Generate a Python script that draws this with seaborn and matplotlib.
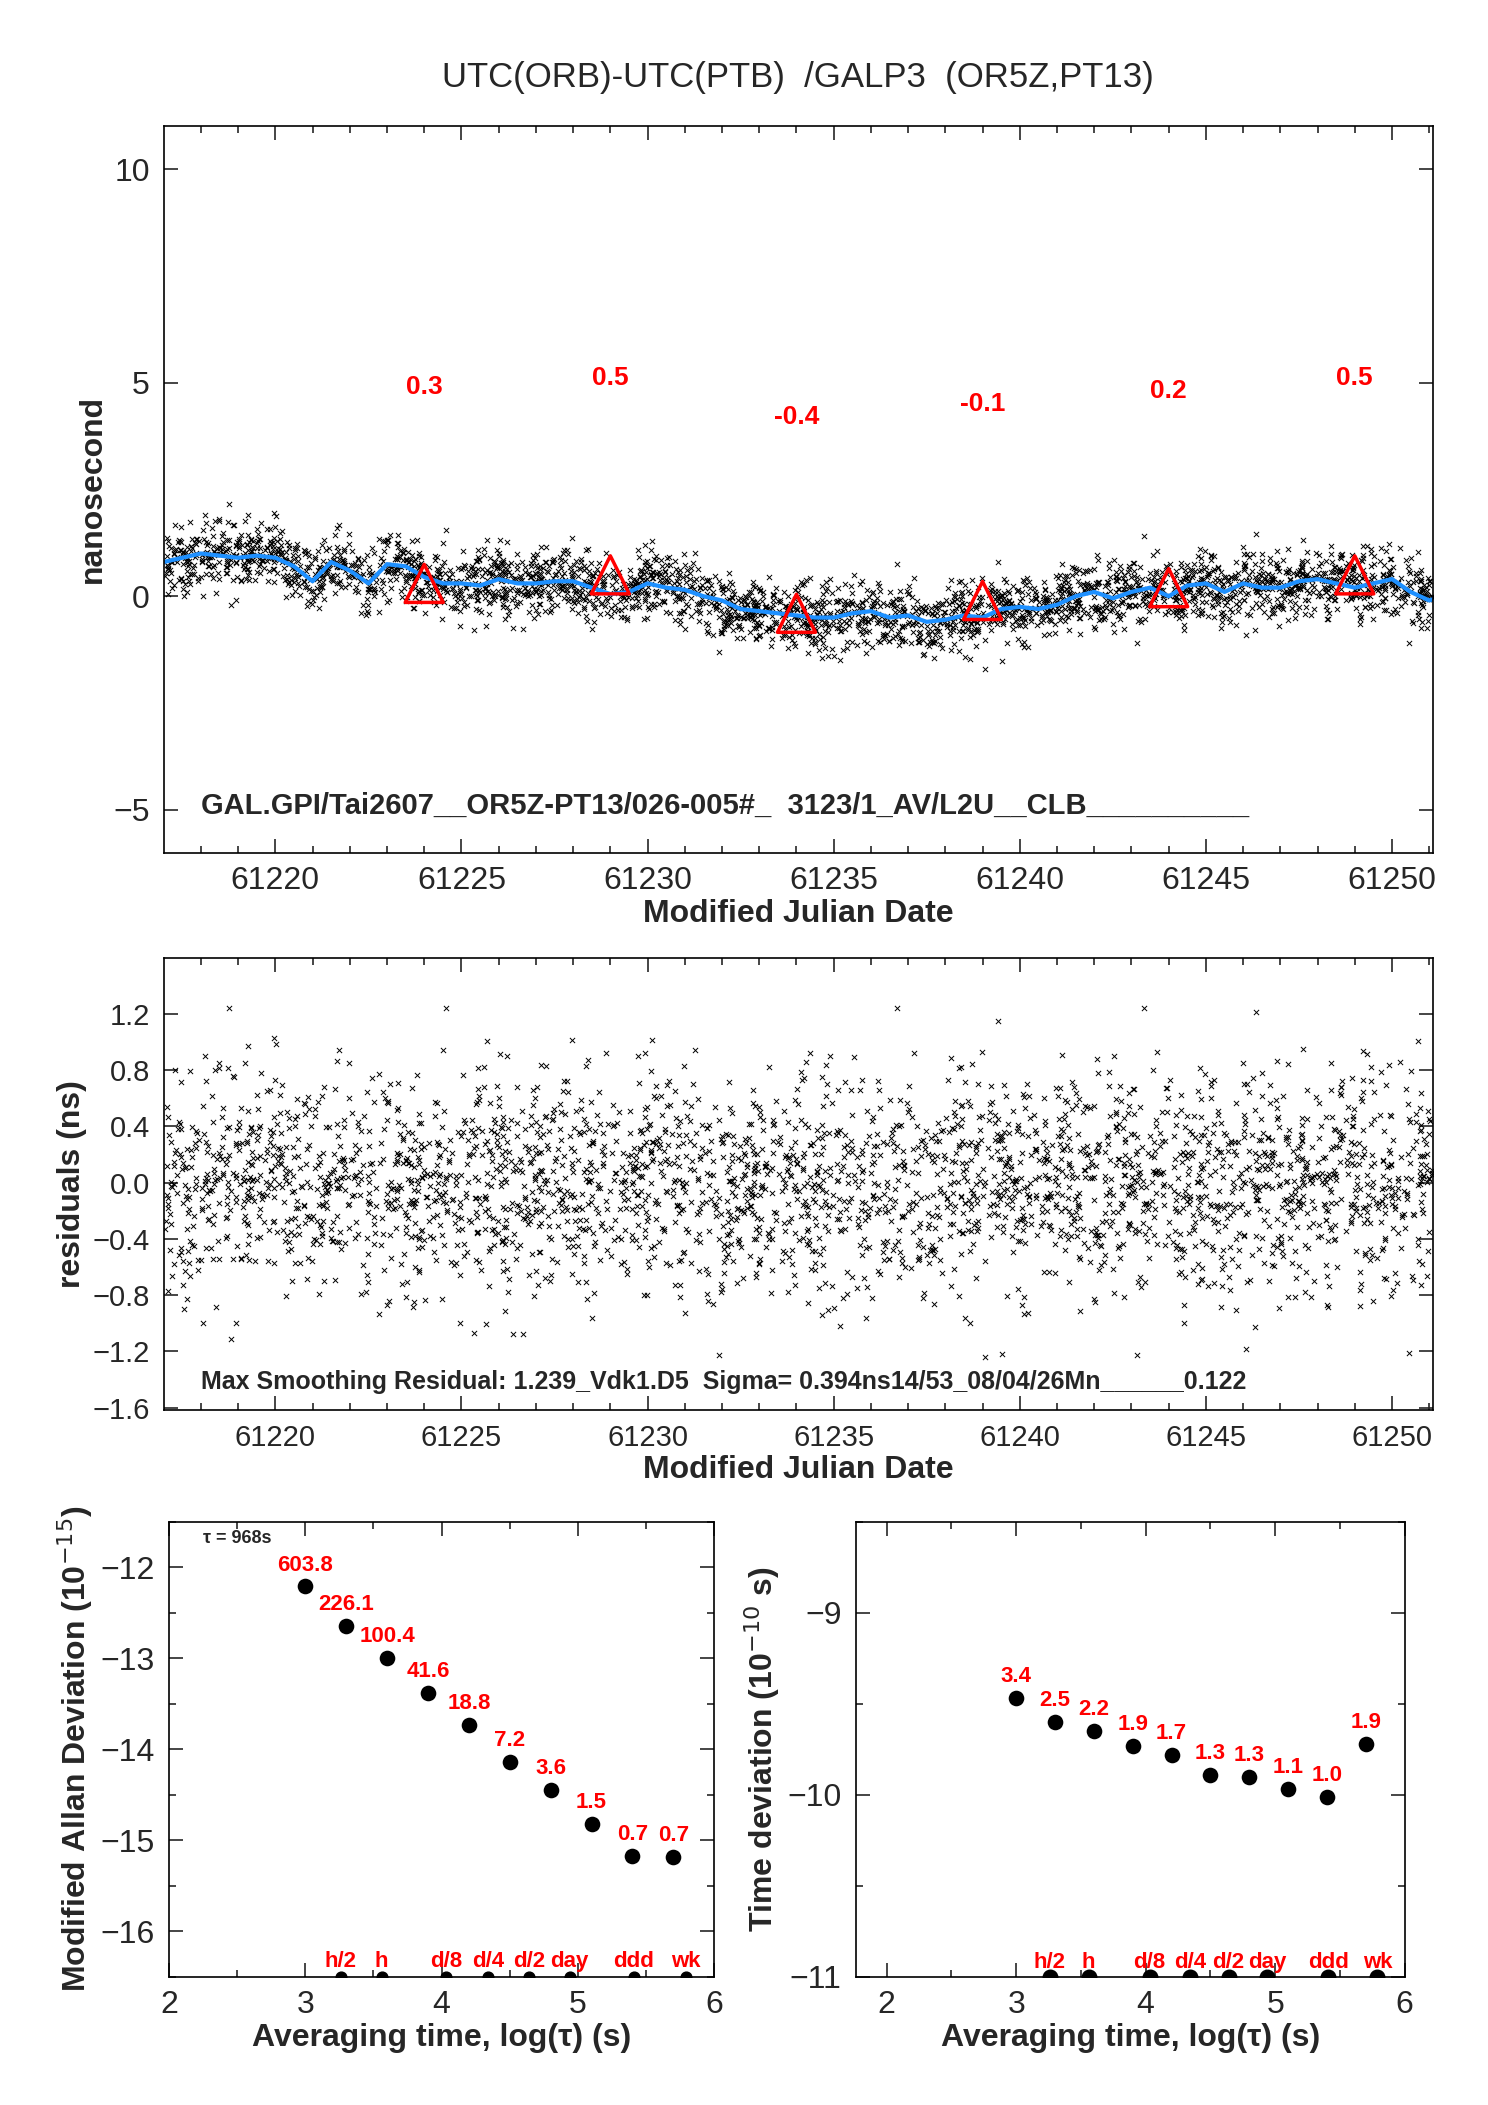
import numpy as np
import pandas as pd
import matplotlib
matplotlib.use("Agg")
import matplotlib.pyplot as plt
import seaborn as sns

sns.set_theme(style="ticks")
plt.rcParams['font.family'] = ['Liberation Sans', 'DejaVu Sans']

# smoothed curve (blue), values every 0.5 day from 61217.0
curve_start = 61217.0
curve_vals = [0.8, 0.9, 1.0, 0.95, 0.9, 0.95, 0.9, 0.7, 0.35, 0.8, 0.6, 0.3, 0.75, 0.7, 0.45, 0.3,
              0.3, 0.25, 0.4, 0.3, 0.3, 0.35, 0.35, 0.2, 0.05, 0.1, 0.3, 0.2, 0.15, 0.0, -0.1, -0.3,
              -0.35, -0.4, -0.45, -0.5, -0.5, -0.4, -0.35, -0.5, -0.45, -0.6, -0.55, -0.45, -0.5, -0.3, -0.25,
              -0.3, -0.2, 0.0, 0.1, -0.05, 0.1, 0.2, 0.0, 0.25, 0.3, 0.1, 0.3, 0.2, 0.2, 0.35, 0.4, 0.3,
              0.2, 0.3, 0.4, 0.1, -0.1, 0.05, 0.2]
tri_mjd = [61224, 61229, 61234, 61239, 61244, 61249]
tri_val = [0.3, 0.5, -0.4, -0.1, 0.2, 0.5]
tri_lbl = ["0.3", "0.5", "-0.4", "-0.1", "0.2", "0.5"]

resid_sigma = 0.394
n_pts = 3000

mdev_x = [3.0, 3.3, 3.6, 3.9, 4.2, 4.5, 4.8, 5.1, 5.4, 5.7]
mdev_y = [-12.21, -12.64, -13.0, -13.38, -13.73, -14.14, -14.45, -14.82, -15.17, -15.18]
mdev_lbl = ["603.8", "226.1", "100.4", "41.6", "18.8", "7.2", "3.6", "1.5", "0.7", "0.7"]
tdev_y = [-9.47, -9.6, -9.65, -9.73, -9.78, -9.89, -9.9, -9.97, -10.01, -9.72]
tdev_lbl = ["3.4", "2.5", "2.2", "1.9", "1.7", "1.3", "1.3", "1.1", "1.0", "1.9"]
ref_x = [3.26, 3.56, 4.03, 4.34, 4.64, 4.94, 5.41, 5.79]
ref_lbl = ["h/2", "h", "d/8", "d/4", "d/2", "day", "ddd", "wk"]

curve_x = curve_start + 0.5 * np.arange(len(curve_vals))
rng = np.random.default_rng(7)
mjd = np.sort(rng.uniform(61217.0, 61251.1, n_pts))
resid = np.clip(rng.normal(0, resid_sigma, n_pts), -1.24, 1.24)
trend = np.interp(mjd, curve_x, curve_vals)
df = pd.DataFrame({"mjd": mjd, "resid": resid, "val": trend + resid})
cdf = pd.DataFrame({"mjd": curve_x, "val": curve_vals})

fig = plt.figure(figsize=(14.88, 21.05), dpi=100)
RED = "#ff0000"

def style(ax, ls=23):
    ax.tick_params(direction="in", length=10, width=1.2, labelsize=ls, top=True, right=True, pad=10)
    ax.tick_params(which="minor", direction="in", length=5, width=1.2, top=True, right=True)
    for s in ax.spines.values():
        s.set_linewidth(1.2)
        s.set_color("black")

# top panel
ax1 = fig.add_axes([0.110, 0.595, 0.853, 0.345])
sns.scatterplot(data=df, x="mjd", y="val", marker="x", s=14, color="black", linewidth=0.7, ax=ax1, legend=False)
sns.lineplot(data=cdf, x="mjd", y="val", color="#1e90ff", lw=3, ax=ax1)
ax1.scatter(tri_mjd, tri_val, marker="^", s=750, facecolors="none", edgecolors=RED, linewidths=2.5, zorder=5)
for xm, v, t in zip(tri_mjd, tri_val, tri_lbl):
    ax1.text(xm, v + 4.6, t, color=RED, fontsize=19, fontweight="bold", ha="center", va="center")
ax1.set_xlim(61217.0, 61251.1)
ax1.set_ylim(-6, 11)
ax1.set_yticks([-5, 0, 5, 10])
ax1.set_yticklabels(["\u22125", "0", "5", "10"])
ax1.set_xticks(range(61220, 61251, 5))
ax1.set_xticks(range(61218, 61252), minor=True)
ax1.set_xlabel("Modified Julian Date", fontsize=23, fontweight="bold", labelpad=2)
ax1.set_ylabel("nanosecond", fontsize=23, fontweight="bold")
ax1.set_title("UTC(ORB)-UTC(PTB)  /GALP3  (OR5Z,PT13)", fontsize=25, pad=28)
ax1.text(61218.0, -4.9, "GAL.GPI/Tai2607__OR5Z-PT13/026-005#_  3123/1_AV/L2U__CLB__________",
         fontsize=21, fontweight="bold", va="center")
style(ax1)

# middle panel
ax2 = fig.add_axes([0.110, 0.330, 0.853, 0.215])
sns.scatterplot(data=df, x="mjd", y="resid", marker="x", s=14, color="black", linewidth=0.7, ax=ax2, legend=False)
ax2.set_xlim(61217.0, 61251.1)
ax2.set_ylim(-1.62, 1.6)
yt = [-1.6, -1.2, -0.8, -0.4, 0.0, 0.4, 0.8, 1.2]
ax2.set_yticks(yt)
ax2.set_yticklabels([("\u2212%.1f" % -v) if v < 0 else "%.1f" % v for v in yt])
ax2.set_xticks(range(61220, 61251, 5))
ax2.set_xticks(range(61218, 61252), minor=True)
ax2.set_xlabel("Modified Julian Date", fontsize=23, fontweight="bold", labelpad=2)
ax2.set_ylabel("residuals (ns)", fontsize=23, fontweight="bold")
ax2.text(61218.0, -1.42, "Max Smoothing Residual: 1.239_Vdk1.D5  Sigma= 0.394ns14/53_08/04/26Mn______0.122",
         fontsize=18, fontweight="bold", va="center")
style(ax2, 21)

# bottom left
ax3 = fig.add_axes([0.1136, 0.061, 0.3664, 0.216])
sns.scatterplot(x=mdev_x, y=mdev_y, s=150, color="black", ax=ax3, legend=False)
for xv, yv, t in zip(mdev_x, mdev_y, mdev_lbl):
    ax3.text(xv, yv + 0.12, t, color=RED, fontsize=16, fontweight="bold", ha="center", va="bottom")
ax3.scatter(ref_x, [-16.5] * len(ref_x), s=60, color="black", zorder=5)
for xv, t in zip(ref_x, ref_lbl):
    ax3.text(xv, -16.33, t, color=RED, fontsize=16, fontweight="bold", ha="center", va="center")
ax3.text(2.25, -11.73, "\u03c4 = 968s", fontsize=13, fontweight="bold")
ax3.set_xlim(2, 6)
ax3.set_ylim(-16.5, -11.5)
ax3.set_xticks([2, 3, 4, 5, 6])
ax3.set_xticks(np.arange(2, 6.01, 0.5), minor=True)
ax3.set_yticks([-16, -15, -14, -13, -12])
ax3.set_yticklabels(["\u221216", "\u221215", "\u221214", "\u221213", "\u221212"])
ax3.set_yticks(np.arange(-16.5, -11.4, 0.5), minor=True)
ax3.set_xlabel("Averaging time, log(\u03c4) (s)", fontsize=23, fontweight="bold", labelpad=2)
ax3.set_ylabel("Modified Allan Deviation (10$^{-15}$)", fontsize=23, fontweight="bold")
style(ax3)

# bottom right
ax4 = fig.add_axes([0.575, 0.061, 0.369, 0.216])
sns.scatterplot(x=mdev_x, y=tdev_y, s=150, color="black", ax=ax4, legend=False)
for xv, yv, t in zip(mdev_x, tdev_y, tdev_lbl):
    ax4.text(xv, yv + 0.06, t, color=RED, fontsize=16, fontweight="bold", ha="center", va="bottom")
ax4.scatter(ref_x, [-11.0] * len(ref_x), s=110, color="black", zorder=5)
for xv, t in zip(ref_x, ref_lbl):
    ax4.text(xv, -10.92, t, color=RED, fontsize=16, fontweight="bold", ha="center", va="center")
ax4.set_xlim(1.76, 6)
ax4.set_ylim(-11, -8.5)
ax4.set_xticks([2, 3, 4, 5, 6])
ax4.set_xticks(np.arange(2, 6.01, 0.5), minor=True)
ax4.set_yticks([-11, -10, -9])
ax4.set_yticklabels(["\u221211", "\u221210", "\u22129"])
ax4.set_yticks(np.arange(-11, -8.4, 0.5), minor=True)
ax4.set_xlabel("Averaging time, log(\u03c4) (s)", fontsize=23, fontweight="bold", labelpad=2)
ax4.set_ylabel("Time deviation (10$^{-10}$ s)", fontsize=23, fontweight="bold")
style(ax4)

fig.savefig("out.png", dpi=100)
